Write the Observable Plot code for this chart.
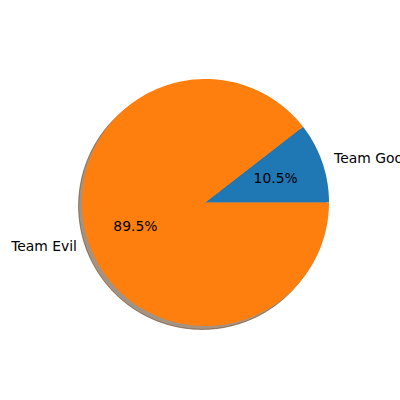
<!DOCTYPE html>
<html>
<head>
<meta charset="utf-8">
<script src="https://cdn.jsdelivr.net/npm/d3@7"></script>
<script src="https://cdn.jsdelivr.net/npm/@observablehq/plot@0.6"></script>
<style>
  html, body { margin: 0; padding: 0; background: white; overflow: hidden; }
</style>
</head>
<body>
<div id="chart"></div>
<script>
const labels = ["Team Good", "Team Evil"];
const values = [10.5, 89.5];
const colors = ["#1f77b4", "#ff7f0e"];

const k = 123.5; // px per data unit
const cx = 205, cy = 202;
const total = d3.sum(values);

// Build wedges (counter-clockwise from 3 o'clock, like matplotlib)
const wedgePts = [];
const textRows = [];
let start = 0;
labels.forEach((lab, i) => {
  const sweep = values[i] / total * 2 * Math.PI;
  const end = start + sweep;
  const n = Math.max(2, Math.ceil(sweep / (Math.PI / 180)));
  const pts = [{x: 0, y: 0, label: lab}];
  for (let j = 0; j <= n; j++) {
    const a = start + sweep * j / n;
    pts.push({x: Math.cos(a), y: Math.sin(a), label: lab});
  }
  wedgePts.push(...pts);
  const mid = (start + end) / 2;
  textRows.push({x: 1.1 * Math.cos(mid), y: 1.1 * Math.sin(mid), text: lab, anchor: Math.cos(mid) > 0 ? "start" : "end"});
  textRows.push({x: 0.6 * Math.cos(mid), y: 0.6 * Math.sin(mid), text: values[i].toFixed(1) + "%", anchor: "middle"});
  start = end;
});

const shadowColor = c => {
  const r = d3.rgb(c);
  return d3.rgb(r.r * 0.3, r.g * 0.3, r.b * 0.3).toString();
};

const textMark = anchor => Plot.text(textRows.filter(d => d.anchor === anchor), {
  x: "x", y: "y", text: "text", textAnchor: anchor,
  fill: "black", fontSize: 13.9, fontFamily: "DejaVu Sans", lineAnchor: "middle"
});

const plot = Plot.plot({
  width: 400,
  height: 400,
  margin: 0,
  x: {domain: [-cx / k, (400 - cx) / k], axis: null},
  y: {domain: [-(400 - cy) / k, cy / k], axis: null},
  color: {domain: labels, range: colors},
  style: {fontFamily: "DejaVu Sans", fontSize: "13.9px", background: "white", overflow: "hidden"},
  marks: [
    Plot.line(wedgePts, {
      x: "x", y: "y", z: "label", curve: "linear-closed",
      fill: d => shadowColor(colors[labels.indexOf(d.label)]),
      stroke: d => shadowColor(colors[labels.indexOf(d.label)]),
      strokeWidth: 1, fillOpacity: 0.5, strokeOpacity: 0.5,
      dx: -3.4, dy: 3.4
    }),
    Plot.line(wedgePts, {
      x: "x", y: "y", z: "label", curve: "linear-closed",
      fill: "label", stroke: "none"
    }),
    textMark("start"),
    textMark("end"),
    textMark("middle")
  ]
});
document.getElementById("chart").appendChild(plot);
</script>
</body>
</html>
